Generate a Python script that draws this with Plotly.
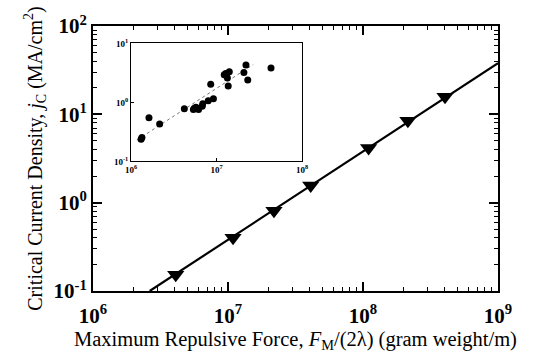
import plotly.graph_objects as go

# Main data
main_F = [4.1e6, 1.09e7, 2.19e7, 4.1e7, 1.1e8, 2.15e8, 4.05e8]
main_j = [0.153, 0.40, 0.81, 1.56, 4.17, 8.45, 15.8]
fit_F = [2.63e6, 1e9]
fit_j = [0.1, 38]

# Inset data
inset_F = [1.31e6, 1.34e6, 1.62e6, 2.16e6, 4.2e6, 5.36e6, 5.75e6, 6.16e6, 6.9e6, 6.8e6,
           8.0e6, 9.2e6, 8.55e6, 1.23e7, 1.31e7, 1.41e7, 1.34e7, 1.37e7, 2.09e7, 2.21e7,
           2.32e7, 4.34e7, 5.5e6, 1.28e7]
inset_j = [0.238, 0.254, 0.55, 0.43, 0.78, 0.76, 0.83, 0.76, 0.95, 0.86,
           1.07, 1.15, 2.03, 2.95, 2.84, 3.31, 2.6, 1.9, 3.22, 4.3,
           2.41, 3.85, 0.80, 3.1]
inset_fit_F = [1.17e6, 2.69e7]
inset_fit_j = [0.23, 4.4]

main_xticks = [1e6, 1e7, 1e8, 1e9]
main_xtext = ["10<sup>6</sup>", "10<sup>7</sup>", "10<sup>8</sup>", "10<sup>9</sup>"]
main_yticks = [0.1, 1, 10, 100]
main_ytext = ["10<sup>-1</sup>", "10<sup>0</sup>", "10<sup>1</sup>", "10<sup>2</sup>"]
inset_xticks = [1e6, 1e7, 1e8]
inset_xtext = ["10<sup>6</sup>", "10<sup>7</sup>", "10<sup>8</sup>"]
inset_yticks = [0.1, 1, 10]
inset_ytext = ["10<sup>-1</sup>", "10<sup>0</sup>", "10<sup>1</sup>"]

def minors(lo, hi):
    out = []
    for e in range(lo, hi):
        for m in range(2, 10):
            out.append(m * 10 ** e)
    return out

SERIF = "Liberation Serif, Times New Roman, serif"

fig = go.Figure()
fig.add_trace(go.Scatter(x=fit_F, y=fit_j, mode="lines",
                         line=dict(color="black", width=2.2), showlegend=False))
fig.add_trace(go.Scatter(x=main_F, y=main_j, mode="markers",
                         marker=dict(symbol="triangle-down", size=15, color="black"),
                         showlegend=False))
fig.add_trace(go.Scatter(x=inset_fit_F, y=inset_fit_j, mode="lines",
                         line=dict(color="#777", width=1, dash="dot"),
                         xaxis="x2", yaxis="y2", showlegend=False))
fig.add_trace(go.Scatter(x=inset_F, y=inset_j, mode="markers",
                         marker=dict(symbol="circle", size=7, color="black"),
                         xaxis="x2", yaxis="y2", showlegend=False))

ax_common = dict(type="log", showgrid=False, zeroline=False, showline=True,
                 linecolor="black", linewidth=2, mirror="allticks",
                 ticks="inside", ticklen=9, tickwidth=1.5, tickcolor="black",
                 tickfont=dict(family=SERIF, size=21, color="black", weight="bold"))

inset_common = dict(type="log", showgrid=False, zeroline=False, showline=True,
                    linecolor="black", linewidth=1, mirror=True, ticks="inside",
                    ticklen=3, tickcolor="black",
                    tickfont=dict(family=SERIF, size=9, color="black", weight="bold"))

fig.update_layout(
    width=536, height=362,
    margin=dict(l=93, r=38, t=17, b=71),
    paper_bgcolor="white", plot_bgcolor="white",
    xaxis=dict(range=[6, 9], tickmode="array", tickvals=main_xticks, ticktext=main_xtext,
               ticklabelstandoff=5,
               minor=dict(tickmode="array", tickvals=minors(6, 9), ticks="inside",
                          ticklen=4, tickcolor="black", tickwidth=1, showgrid=False),
               title=dict(text="Maximum Repulsive Force, <i>F</i><sub>M</sub>/(2λ) (gram weight/m)",
                          font=dict(family=SERIF, size=20.5, color="black"), standoff=0),
               **ax_common),
    yaxis=dict(range=[-1, 2], tickmode="array", tickvals=main_yticks, ticktext=main_ytext,
               minor=dict(tickmode="array", tickvals=minors(-1, 2), ticks="inside",
                          ticklen=4, tickcolor="black", tickwidth=1, showgrid=False),
               title=dict(text="Critical Current Density, <i>j</i><sub>C</sub> (MA/cm<sup>2</sup>)",
                          font=dict(family=SERIF, size=20, color="black"), standoff=6),
               **ax_common),
    xaxis2=dict(domain=[0.094, 0.516], anchor="y2", range=[6, 8],
                tickmode="array", tickvals=inset_xticks, ticktext=inset_xtext,
                **inset_common),
    yaxis2=dict(domain=[0.489, 0.934], anchor="x2", range=[-1, 1],
                tickmode="array", tickvals=inset_yticks, ticktext=inset_ytext,
                **inset_common),
)

fig.write_html("out.html")
